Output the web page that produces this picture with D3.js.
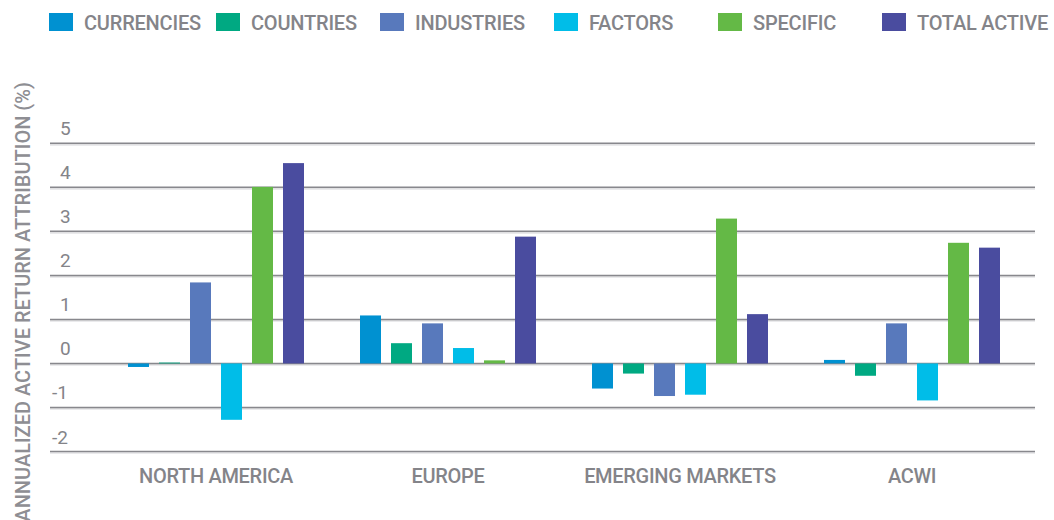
<!DOCTYPE html>
<html>
<head>
<meta charset="utf-8">
<script src="https://cdn.jsdelivr.net/npm/d3@7"></script>
<style>
    body { margin: 0; background: #fff; }
    svg { display: block; font-family: Roboto, "Noto Sans", sans-serif; }
</style>
</head>
<body>
<svg id="chart" width="1054" height="520"></svg>
<script>
// data
var regions = ["NORTH AMERICA", "EUROPE", "EMERGING MARKETS", "ACWI"];
var seriesNames = ["CURRENCIES", "COUNTRIES", "INDUSTRIES", "FACTORS", "SPECIFIC", "TOTAL ACTIVE"];
var seriesColors = ["#0091d1", "#00a982", "#5879bc", "#00bde8", "#64b946", "#4a4c9f"];
var currencies = [-0.08, 1.09, -0.57, 0.08];
var countries = [0.02, 0.46, -0.23, -0.28];
var industries = [1.84, 0.91, -0.74, 0.91];
var factors = [-1.28, 0.35, -0.71, -0.84];
var specific = [4.01, 0.07, 3.29, 2.74];
var totalActive = [4.55, 2.88, 1.12, 2.63];
var yTicks = [-2, -1, 0, 1, 2, 3, 4, 5];

var seriesValues = [currencies, countries, industries, factors, specific, totalActive];

var svg = d3.select("#chart");
var textColor = "#848489";

// scales
var x0 = d3.scaleBand().domain(regions).range([100, 1028]);
var x1 = d3.scaleBand().domain(seriesNames).range([28, 204]).paddingInner(10 / 31);
var y = d3.scaleLinear().domain([-2, 5]).range([451.5, 143.3]);

// gridlines (dark line with a soft light line under it)
var grid = svg.append("g");
grid.selectAll("line.light").data(yTicks).enter().append("line")
    .attr("class", "light")
    .attr("x1", 50).attr("x2", 1035)
    .attr("y1", function(d) { return y(d) + 1.5; })
    .attr("y2", function(d) { return y(d) + 1.5; })
    .attr("stroke", "#d6d6d9").attr("stroke-width", 1.2);
grid.selectAll("line.dark").data(yTicks).enter().append("line")
    .attr("class", "dark")
    .attr("x1", 50).attr("x2", 1035)
    .attr("y1", function(d) { return y(d); })
    .attr("y2", function(d) { return y(d); })
    .attr("stroke", "#88888d").attr("stroke-width", 1.5);

// tick labels sit above their gridline
svg.append("g").selectAll("text").data(yTicks).enter().append("text")
    .attr("x", function(d) { return d < 0 ? 52 : 60; })
    .attr("y", function(d) { return y(d) - 8; })
    .attr("fill", textColor)
    .style("font-size", "19px")
    .text(function(d) { return d; });

// bars
var rows = [];
regions.forEach(function(r, i) {
    seriesNames.forEach(function(s, j) {
        rows.push({ region: r, series: s, value: seriesValues[j][i], color: seriesColors[j] });
    });
});

svg.append("g").selectAll("rect").data(rows).enter().append("rect")
    .attr("x", function(d) { return x0(d.region) + x1(d.series); })
    .attr("width", x1.bandwidth())
    .attr("y", function(d) { return y(Math.max(0, d.value)); })
    .attr("height", function(d) { return Math.abs(y(d.value) - y(0)); })
    .attr("fill", function(d) { return d.color; });

// category labels
svg.append("g").selectAll("text").data(regions).enter().append("text")
    .attr("x", function(d) { return x0(d) + x0.bandwidth() / 2; })
    .attr("y", 483)
    .attr("text-anchor", "middle")
    .attr("fill", textColor)
    .style("font-size", "20px")
    .style("font-weight", 500)
    .style("letter-spacing", "-0.3px")
    .text(function(d) { return d; });

// y axis title
svg.append("text")
    .attr("transform", "translate(30,82) rotate(-90)")
    .attr("text-anchor", "end")
    .attr("fill", "#8e8e93")
    .style("font-size", "20px")
    .style("font-weight", 500)
    .text("ANNUALIZED ACTIVE RETURN ATTRIBUTION (%)");

// legend
var legendX = [49, 216, 380, 554, 718, 882];
var legend = svg.append("g").selectAll("g").data(seriesNames).enter().append("g")
    .attr("transform", function(d, i) { return "translate(" + legendX[i] + ",0)"; });
legend.append("rect")
    .attr("y", 13).attr("width", 24).attr("height", 18)
    .attr("fill", function(d, i) { return seriesColors[i]; });
legend.append("text")
    .attr("x", 35).attr("y", 30)
    .attr("fill", textColor)
    .style("font-size", "20px")
    .style("font-weight", 500)
    .style("letter-spacing", "-0.2px")
    .text(function(d) { return d; });
</script>
</body>
</html>
